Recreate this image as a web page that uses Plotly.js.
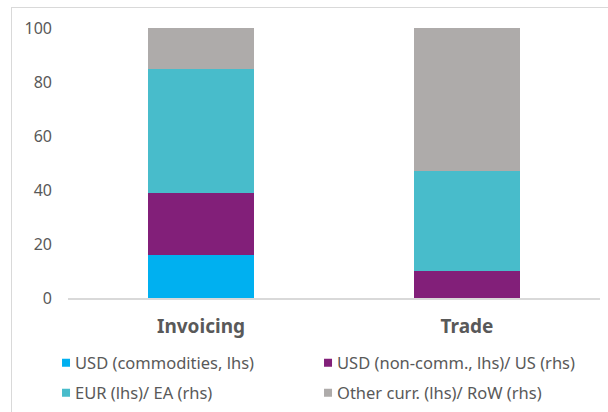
<!DOCTYPE html>
<html>
<head>
<meta charset="utf-8">
<script src="https://cdn.plot.ly/plotly-3.0.1.min.js"></script>
<style>
  html, body { margin: 0; padding: 0; background: #fff; }
  #wrap { position: relative; width: 608px; height: 412px; overflow: hidden; }
  #chart { width: 608px; height: 412px; }
  #frame { position: absolute; left: 11px; top: 7px; width: 700px; height: 500px;
           border: 1px solid #d9d9d9; pointer-events: none; }
</style>
</head>
<body>
<div id="wrap"><div id="chart"></div><div id="frame"></div></div>
<script>
const categories = ["Invoicing", "Trade"];
const seriesNames = ["USD (commodities, lhs)", "USD (non-comm., lhs)/ US (rhs)", "EUR (lhs)/ EA (rhs)", "Other curr. (lhs)/ RoW (rhs)"];
const usdCommodities = [16, 0];
const usdNonComm = [23, 10];
const eur = [46, 37];
const other = [15, 53];
const yTicks = [0, 20, 40, 60, 80, 100];

const colors = ["#00B0F0", "#821F79", "#48BCCB", "#AEABAA"];
const values = [usdCommodities, usdNonComm, eur, other];
const legendIds = ["legend", "legend2", "legend3", "legend4"];
const legendX = [-0.062, 0.4305, -0.062, 0.4305];
const legendY = [-0.2407, -0.2407, -0.352, -0.352];

const traces = values.map((v, i) => ({
  type: "bar",
  x: categories,
  y: v,
  name: seriesNames[i],
  marker: { color: colors[i], line: { width: 0 } },
  width: 0.4,
  legend: legendIds[i],
  hoverinfo: "skip"
}));

const font = "'Noto Sans', 'DejaVu Sans', sans-serif";

const layout = {
  width: 608,
  height: 412,
  margin: { l: 68, r: 8, t: 28, b: 114, autoexpand: false },
  paper_bgcolor: "#ffffff",
  plot_bgcolor: "#ffffff",
  barmode: "stack",
  showlegend: true,
  font: { family: font, color: "#595959" },
  xaxis: {
    type: "category",
    range: [-0.5, 1.5],
    showgrid: false,
    zeroline: false,
    showline: true,
    linecolor: "#d9d9d9",
    linewidth: 1.5,
    ticks: "",
    ticklabelstandoff: 11,
    tickfont: { family: font, size: 19, color: "#595959", weight: "bold" }
  },
  yaxis: {
    range: [0, 100],
    tickvals: yTicks,
    ticktext: yTicks.map(String),
    showgrid: false,
    zeroline: false,
    showline: false,
    ticks: "",
    ticklabelstandoff: 15,
    tickfont: { family: font, size: 16, color: "#595959" }
  }
};

legendIds.forEach((id, i) => {
  layout[id] = {
    orientation: "h",
    xanchor: "left",
    yanchor: "middle",
    x: legendX[i],
    y: legendY[i],
    font: { family: font, size: 16.5, color: "#595959" },
    bgcolor: "rgba(0,0,0,0)"
  };
});

Plotly.newPlot("chart", traces, layout, { displayModeBar: false, staticPlot: true }).then(gd => {
  gd.querySelectorAll(".legendpoints path.legendbar, .legendpoints path").forEach(p => {
    p.setAttribute("d", "M4,4H-4V-4H4Z");
    p.setAttribute("transform", "translate(31,0)");
  });
});
</script>
</body>
</html>
